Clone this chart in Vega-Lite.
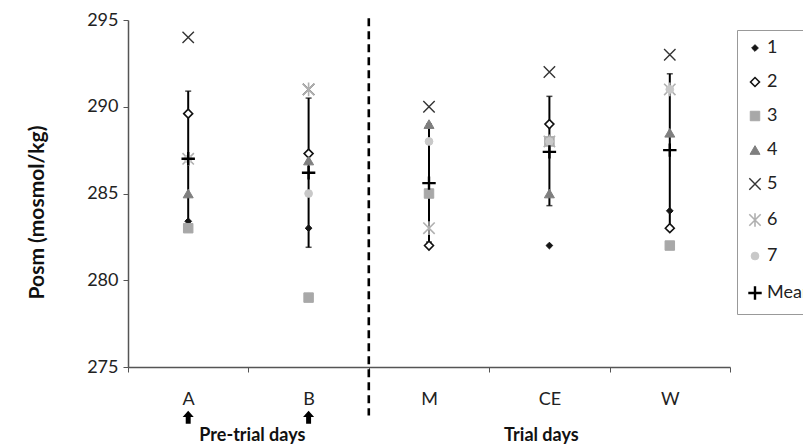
{
  "$schema": "https://vega.github.io/schema/vega-lite/v6.json",
  "width": 602,
  "height": 347,
  "autosize": "none",
  "padding": {"left": 128, "top": 20, "right": 73, "bottom": 80},
  "background": "white",
  "config": {
    "view": {"stroke": null},
    "font": "Lato",
    "axis": {"labelColor": "#222", "titleColor": "#111", "domainColor": "#555", "tickColor": "#555", "grid": false, "labelFont": "Lato", "titleFont": "Lato"},
    "legend": {"labelFont": "Lato"}
  },
  "datasets": {
    "points": [
      {"day": "A", "series": "1", "value": 283.4},
      {"day": "A", "series": "2", "value": 289.6},
      {"day": "A", "series": "3", "value": 283.0},
      {"day": "A", "series": "4", "value": 285.0},
      {"day": "A", "series": "5", "value": 294.0},
      {"day": "A", "series": "6", "value": 287.0},
      {"day": "A", "series": "7", "value": 287.0},
      {"day": "B", "series": "1", "value": 283.0},
      {"day": "B", "series": "2", "value": 287.3},
      {"day": "B", "series": "3", "value": 279.0},
      {"day": "B", "series": "4", "value": 286.9},
      {"day": "B", "series": "5", "value": 291.0},
      {"day": "B", "series": "6", "value": 291.0},
      {"day": "B", "series": "7", "value": 285.0},
      {"day": "M", "series": "1", "value": 282.0},
      {"day": "M", "series": "2", "value": 282.0},
      {"day": "M", "series": "3", "value": 285.0},
      {"day": "M", "series": "4", "value": 289.0},
      {"day": "M", "series": "5", "value": 290.0},
      {"day": "M", "series": "6", "value": 283.0},
      {"day": "M", "series": "7", "value": 288.0},
      {"day": "CE", "series": "1", "value": 282.0},
      {"day": "CE", "series": "2", "value": 289.0},
      {"day": "CE", "series": "3", "value": 288.0},
      {"day": "CE", "series": "4", "value": 285.0},
      {"day": "CE", "series": "5", "value": 292.0},
      {"day": "CE", "series": "6", "value": 288.0},
      {"day": "CE", "series": "7", "value": 288.0},
      {"day": "W", "series": "1", "value": 284.0},
      {"day": "W", "series": "2", "value": 283.0},
      {"day": "W", "series": "3", "value": 282.0},
      {"day": "W", "series": "4", "value": 288.5},
      {"day": "W", "series": "5", "value": 293.0},
      {"day": "W", "series": "6", "value": 291.0},
      {"day": "W", "series": "7", "value": 291.0},
      {"day": "A", "series": "Mean", "value": 287.0},
      {"day": "B", "series": "Mean", "value": 286.2},
      {"day": "M", "series": "Mean", "value": 285.6},
      {"day": "CE", "series": "Mean", "value": 287.4},
      {"day": "W", "series": "Mean", "value": 287.5}
    ],
    "bars": [
      {"day": "A", "lo": 283.2, "hi": 290.9},
      {"day": "B", "lo": 281.9, "hi": 290.5},
      {"day": "M", "lo": 282.2, "hi": 289.0},
      {"day": "CE", "lo": 284.3, "hi": 290.6},
      {"day": "W", "lo": 283.1, "hi": 291.9}
    ]
  },
  "layer": [
    {
      "data": {"name": "bars"},
      "mark": {"type": "rule", "color": "black", "strokeWidth": 2},
      "encoding": {
        "x": {"field": "day", "type": "nominal",
          "scale": {"type": "band", "domain": ["A", "B", "M", "CE", "W"], "paddingInner": 0, "paddingOuter": 0},
          "axis": {"title": null, "labelAngle": 0, "labelFontSize": 18, "labelPadding": 18, "tickSize": 5, "tickBand": "extent", "domainWidth": 1.5}},
        "y": {"field": "lo", "type": "quantitative",
          "scale": {"domain": [275, 295], "nice": false, "zero": false},
          "axis": {"title": "Posm (mosmol/kg)", "values": [275, 280, 285, 290, 295], "labelFontSize": 18, "tickSize": 5, "labelPadding": 5, "domainWidth": 1.5,
            "titleFontSize": 21, "titleFontWeight": "bold", "titleX": -91, "titleY": 192, "titleBaseline": "middle", "titleAlign": "center", "titleAngle": -90}},
        "y2": {"field": "hi"}
      }
    },
    {
      "data": {"name": "bars"},
      "mark": {"type": "tick", "color": "black", "orient": "horizontal", "size": 6, "thickness": 1.5},
      "encoding": {
        "x": {"field": "day", "type": "nominal"},
        "y": {"field": "lo", "type": "quantitative"}
      }
    },
    {
      "data": {"name": "bars"},
      "mark": {"type": "tick", "color": "black", "orient": "horizontal", "size": 6, "thickness": 1.5},
      "encoding": {
        "x": {"field": "day", "type": "nominal"},
        "y": {"field": "hi", "type": "quantitative"}
      }
    },
    {
      "data": {"name": "points"},
      "mark": {"type": "point", "filled": true, "opacity": 1},
      "encoding": {
        "x": {"field": "day", "type": "nominal"},
        "y": {"field": "value", "type": "quantitative"},
        "shape": {"field": "series", "type": "nominal",
          "scale": {"domain": ["1", "2", "3", "4", "5", "6", "7", "Mean"],
            "range": ["diamond", "diamond", "square", "triangle-up", "M-1,-1L1,1M-1,1L1,-1", "M-1,-1L1,1M-1,1L1,-1M0,-1.2L0,1.2", "circle", "M-1,0L1,0M0,-1L0,1"]},
          "legend": {"title": null, "orient": "none", "legendX": 609, "legendY": 10, "labelFontSize": 18, "labelColor": "#222", "rowPadding": 16, "padding": 9, "strokeColor": "#999", "fillColor": "white", "labelOffset": 3, "symbolOffset": 0}},
        "fill": {"field": "series", "type": "nominal",
          "scale": {"domain": ["1", "2", "3", "4", "5", "6", "7", "Mean"],
            "range": ["#151515", "white", "#a8a8a8", "#7f7f7f", "transparent", "transparent", "#c8c8c8", "transparent"]},
          "legend": {"title": null, "orient": "none", "legendX": 609, "legendY": 10, "labelFontSize": 18, "labelColor": "#222", "rowPadding": 16, "padding": 9, "strokeColor": "#999", "fillColor": "white", "labelOffset": 3, "symbolOffset": 0}},
        "stroke": {"field": "series", "type": "nominal",
          "scale": {"domain": ["1", "2", "3", "4", "5", "6", "7", "Mean"],
            "range": ["#151515", "#111111", "#a8a8a8", "#7f7f7f", "#333333", "#b0b0b0", "#c8c8c8", "#000000"]},
          "legend": {"title": null, "orient": "none", "legendX": 609, "legendY": 10, "labelFontSize": 18, "labelColor": "#222", "rowPadding": 16, "padding": 9, "strokeColor": "#999", "fillColor": "white", "labelOffset": 3, "symbolOffset": 0}},
        "size": {"field": "series", "type": "nominal",
          "scale": {"type": "ordinal", "domain": ["1", "2", "3", "4", "5", "6", "7", "Mean"],
            "range": [45, 80, 90, 100, 130, 130, 60, 180]},
          "legend": {"title": null, "orient": "none", "legendX": 609, "legendY": 10, "labelFontSize": 18, "labelColor": "#222", "rowPadding": 16, "padding": 9, "strokeColor": "#999", "fillColor": "white", "labelOffset": 3, "symbolOffset": 0}},
        "strokeWidth": {"field": "series", "type": "nominal",
          "scale": {"type": "ordinal", "domain": ["1", "2", "3", "4", "5", "6", "7", "Mean"],
            "range": [1, 1.6, 1, 1, 1.4, 1.6, 1, 2.4]},
          "legend": {"title": null, "orient": "none", "legendX": 609, "legendY": 10, "labelFontSize": 18, "labelColor": "#222", "rowPadding": 16, "padding": 9, "strokeColor": "#999", "fillColor": "white", "labelOffset": 3, "symbolOffset": 0}}
      }
    },
    {
      "data": {"values": [{"day": "M"}]},
      "mark": {"type": "rule", "color": "black", "strokeWidth": 2.6, "strokeDash": [8, 5]},
      "encoding": {
        "x": {"field": "day", "type": "nominal", "bandPosition": 0},
        "y": {"datum": 295.1, "type": "quantitative"},
        "y2": {"datum": 272.2}
      }
    },
    {
      "data": {"values": [{"day": "A"}, {"day": "B"}]},
      "mark": {"type": "point", "filled": true, "color": "black", "opacity": 1, "size": 170, "shape": "M0,-1L0.85,-0.05L0.38,-0.05L0.38,1L-0.38,1L-0.38,-0.05L-0.85,-0.05Z"},
      "encoding": {
        "x": {"field": "day", "type": "nominal"},
        "y": {"datum": 272.1, "type": "quantitative"}
      }
    },
    {
      "data": {"values": [{"day": "B", "label": "Pre-trial days"}]},
      "mark": {"type": "text", "fontSize": 18, "fontWeight": "bold", "color": "#111", "dx": 4, "baseline": "middle"},
      "encoding": {
        "x": {"field": "day", "type": "nominal", "bandPosition": 0},
        "y": {"datum": 271.0, "type": "quantitative"},
        "text": {"field": "label"}
      }
    },
    {
      "data": {"values": [{"day": "CE", "label": "Trial days"}]},
      "mark": {"type": "text", "fontSize": 18, "fontWeight": "bold", "color": "#111", "dx": -8, "baseline": "middle"},
      "encoding": {
        "x": {"field": "day", "type": "nominal"},
        "y": {"datum": 271.0, "type": "quantitative"},
        "text": {"field": "label"}
      }
    }
  ]
}
